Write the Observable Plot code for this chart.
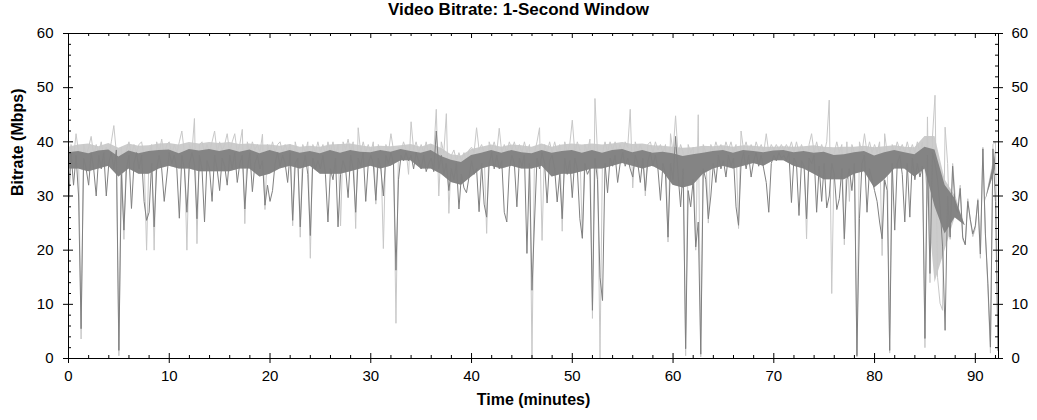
<!DOCTYPE html>
<html><head><meta charset="utf-8">
<script src="https://cdn.jsdelivr.net/npm/d3@7"></script>
<script src="https://cdn.jsdelivr.net/npm/@observablehq/plot@0.6"></script>
<style>
body{margin:0;background:#fff;}
#title{width:1037px;height:22px;line-height:22px;text-align:center;font:bold 17px "Liberation Sans",Arial,sans-serif;color:#000;}
</style></head><body>
<div id="title">Video Bitrate: 1-Second Window</div>
<div id="chart"></div>
<script>
// sampling step of the detailed series (minutes)
const sampleStepMin = 0.25;
// sampling step of the dense-band envelopes (minutes)
const envelopeStepMin = 1;

// darker series (Mbps), one value per 0.25 min
const dark0to30 = [
28,38,32,37.5, 30,5.5,37,35, 32,38,35,30, 37.5,35,38,30, 36,38,35,38.5,
1.5,34,23.7,35, 37.5,27.7,36,38, 35,37.5,29,25.5, 27,36,24.3,35, 37.5,35,29,33.5,
38,36,37.5,35, 25.9,37.5,35,27, 36,38,36,25.8, 37.5,35,25.2,36.5, 35,29,37.5,35,
31,37,35.5,32, 37.5,35,38,32.5, 36,37.5,27.6,35, 38,30.8,36,37.5, 35,36.5,28.3,32,
29,31,36,38, 35.5,37.5,36,32.5, 38,25.5,36,37, 24.3,35,37.5,34, 22.7,37,35,36.5,
35,37.5,34,25.2, 35,33,37,24.3, 34,36.5,35,29.7, 37.5,35,27,37, 35.5,38,29,36
];
const dark30to60 = [
37.5,36,29.2,37, 35,30,37.5,36, 38,36,16.3,33, 37.5,36.5,38,36.5, 37.5,35,38,36.5,
35,37.5,34.5,36, 37,34.5,42,35, 37.5,34,36,31, 35,33,36,27.6, 34,31.5,30.6,33.5,
36.5,34,35,27.1, 36,28.5,26.1,36, 38,35,37.5,35, 36.5,27,25.2,35, 37.5,36,28,37,
35.5,37.5,19.4,36, 12.6,25.2,37,35, 38,36,28.7,36.5, 37.5,35,28.9,34, 25.8,37,34,36.5,
29.7,37,35,25.8, 22.2,36,34,35, 8.9,37,33,15, 10.7,36,30.6,37, 35.5,37.5,32.5,36,
38,35.5,37,35, 33.5,37.5,36,32.5, 37,31,36.5,38, 35.5,37.5,35,29.2, 36,34,22.4,36
];
const dark60to92 = [
33,41,34,28, 35,1.8,31,28, 33,20.6,25.2,0.8, 35,33,25.8,30, 36,32.5,37.5,35,
36.5,33.5,37.5,35.5, 37,28,24.6,36, 38,35,37.5,33.5, 36.5,38,35.5,37.5, 35,32.5,27,36,
37.5,36.5,38,37, 37.5,36.5,38,28.8, 37,36,26.4,36.5, 35.5,25.8,37,36, 37.5,27,35.5,29,
36,27.8,30,36, 34,27.5,29.5,35, 22.1,33,35,31, 36,0.5,25.8,36, 37.5,27,35,33,
31,29,25.2,22.1, 33,31,1.5,36, 23.7,36,37.5,34, 25.2,36,26.1,37, 33,36,33.5,35.5,
3.7,37.5,15.7,38, 36,33,28,20.6, 5.2,30,22.4,35.5, 28,27,31.4,22.4, 21,29,25.7,23,
24.5,29.2,19.3,38.7, 23,13.8,2.1,38.7, 29,1.5
];

// lighter series (Mbps), one value per 0.25 min
const light0to30 = [
30,39.5,37,41.5, 38,3.6,39.5,37.5, 39,41,37.5,39.5, 38,40,37,39, 37.5,40,43,38,
0.5,39,22,38.5, 40,37.5,39.5,38, 39.5,40,37.5,20, 38,39.5,20,40, 38,40.5,37.5,39.5,
40,37.5,39.5,38, 40,42,38,20, 39.5,38,44.3,21.2, 39.5,40,38,39.5, 38,40,42,38,
40,38.5,39.5,41.5, 38,40,41.5,38, 39.5,42.3,24.9,40, 38,40,38.5,39.5, 38,41.4,27.5,39.5,
38,40,38,39.5, 40,38,39.5,38, 39.5,24.5,40,38, 22.4,39.5,38,40, 18.5,39.5,38,40,
38,39.5,37.5,40, 38,40,37.5,39.5, 24.5,40,38.5,40.5, 38,40,24,42.6, 38,40,38,39.5
];
const light30to60 = [
38,40,28.5,39.5, 38,20.3,39.5,38, 41.5,38.5,6.5,39, 38,40,38.5,34, 43.7,38.5,40,38,
39.5,38,40,37.5, 39.5,38,46,30, 40,38,45.2,26.8, 37.5,38.5,36.5,38, 36.5,38,36,38.5,
39,38,42.6,38.5, 39.5,38,23.1,40, 38.5,40,38,42.5, 38,39.5,38,40, 38.5,40,38,39.5,
38,40,38,39.5, 0,38,40,42.6, 21.8,39.5,38,40, 38,40,38,39.5, 23.5,40,38,39.5,
44,38,40,38.5, 22.2,39.5,38,40.5, 7.4,48,38,0, 38,40,38,40, 38.5,40,38,39.5,
38,40,39,46, 31.5,40,38,39.5, 38,30,39.5,40, 38,40,38.5,39.5, 38,39.5,21.5,41.5
];
const light60to92 = [
38,44.8,37.5,39.5, 38,0.5,39.5,38, 39,20,45,0.3, 39.5,38,25,39.5, 38,40,38.5,39.5,
38,40,38.5,40, 38,39.5,24,42, 38.5,40,38,39.5, 38,40,38.5,39.5, 38,41.5,38,39.5,
38.5,39.5,38.5,39.5, 38.5,39.5,38.5,40, 38,40,38,39.5, 38,22.1,39.5,41.5, 38,40,38,39.5,
38,40,47.7,12, 38,40,38,39.5, 21,40,29,39.5, 38,0.3,40,38, 41.5,38,40,38,
39.5,38,40,19, 41.5,38,1,39.5, 38,40,38.5,39.5, 38,40,38,39.5, 38,40,38,40,
2,44.6,14,41, 48.6,15,10.2,8.9, 42.7,36,22,36, 30,28,32,22, 21,29.5,25.5,22.5,
24,29.5,18.5,39, 23,13,1,39.5, 40,1.5
];

// dense band envelopes (Mbps), one value per minute 0..92
const bandLow = [
35,35,34.5,35,35.5,33.5,35,34,34,35,
35.5,35,35,34.5,34.5,34.5,34.5,35,35,33.5,
34,35,35.5,35,35.5,34,34,34,34.5,35,
35.5,35,35.5,36.5,36.5,35,35,34,32.5,32,
33.5,35,35.5,35,35.5,35,35,35.5,33.5,34,
34,34.5,35,35,35.5,36,35.5,35,35.5,34.5,
32,31.5,32,34,35,35.5,35,35.5,36,35.5,
36.5,36.5,35.5,35,34,33,33,33,34,34.5,
31.5,33,35,35,33.5,35,28,23,26,24.5,
23,29,35
];
const lightBandLow = [
35,35,34.5,35,35.5,33.5,35,34,34,35,
35.5,35,35,34.5,34.5,34.5,34.5,35,35,33.5,
34,35,35.5,35,35.5,34,34,34,34.5,35,
35.5,35,35.5,36.5,36.5,35,35,34,32.5,32,
33.5,35,35.5,35,35.5,35,35,35.5,33.5,34,
34,34.5,35,35,35.5,36,35.5,35,35.5,34.5,
32,31.5,32,34,35,35.5,35,35.5,36,35.5,
36.5,36.5,35.5,35,34,33,33,33,34,34.5,
31.5,33,35,35,33.5,35,14,20,26,24.5,
23,29,35
];
const darkBandTop = [
38,38.2,37.8,38.3,38.5,37.2,38.3,37.8,38.2,38.4,
38.5,37.8,38.6,38.3,38.6,38.2,38.6,38.1,38.5,37.8,
38.4,37.9,38.4,37.9,38.2,37.8,38.4,37.9,38.4,38.1,
38,38.4,38.1,38.6,38.2,37.9,38.4,37.3,36.6,36.2,
37.5,37.9,38.4,37.9,38.4,38,37.8,38.4,37.9,38.2,
38.4,37.9,38.4,37.9,38.4,38.6,38,38.4,37.9,38.1,
37.8,37.3,37.6,37.9,38.2,38.4,37.9,38.4,38.2,38,
38.3,38.4,38,38.2,37.9,38.1,37.5,37.6,38,38.2,
37.4,38,38.4,38,37.6,39,38.5,32,29.5,24.5,
23,29,37.5
];
const lightBandTop = [
39,39.4,39.6,39.1,39.7,38.8,39.6,39.2,39.3,39.6,
39.7,39.4,39.9,39.6,39.9,39.7,39.9,39.5,39.6,39.4,
39.4,39.2,39.5,39,39.2,39,39.4,39.5,39.6,39.3,
39,39.2,39.1,39.3,39.5,39,39.6,38.8,37.6,37.4,
38.6,39,39.4,39,39.4,39.3,39,39.6,39,39.4,
39.6,39.4,39.6,39.4,39.6,39.9,39.5,39.6,39.3,39.2,
39,38.8,38.9,39.2,39.1,39.3,39,39.3,39.2,39,
39,39.1,39,39.1,39.3,39,38.9,39,39,39.2,
38.9,39.1,39.3,39,38.9,41,41,33,30,24.5,
23,29,38.5
];

// axis ticks
const xMajorTicks = [0,10,20,30,40,50,60,70,80,90];
const xMinorTicks = [2,4,6,8,12,14,16,18,22,24,26,28,32,34,36,38,42,44,46,48,52,54,56,58,62,64,66,68,72,74,76,78,82,84,86,88,92];
const yMajorTicks = [0,10,20,30,40,50,60];
const yMinorTicks = [2,4,6,8,12,14,16,18,22,24,26,28,32,34,36,38,42,44,46,48,52,54,56,58];
const xMax = 92.3;
const yMax = 60;

const darkMbps = [...dark0to30, ...dark30to60, ...dark60to92];
const lightMbps = [...light0to30, ...light30to60, ...light60to92];
const darkRows = darkMbps.map((v, i) => ({t: i * sampleStepMin, v}));
const lightRows = lightMbps.map((v, i) => ({t: i * sampleStepMin, v}));
const bandRows = bandLow.map((lo, i) => ({t: i * envelopeStepMin, lo, loLight: lightBandLow[i], hi: darkBandTop[i], hiLight: lightBandTop[i]}));

const chart = Plot.plot({
  width: 1037, height: 398,
  marginTop: 11, marginBottom: 62, marginLeft: 68, marginRight: 39,
  style: {fontFamily: '"Liberation Sans", Arial, sans-serif', fontSize: "15px", color: "#000", background: "#fff"},
  x: {domain: [0, xMax]},
  y: {domain: [0, yMax]},
  marks: [
    Plot.areaY(bandRows, {x: "t", y1: "loLight", y2: "hiLight", fill: "#cccccc"}),
    Plot.line(lightRows, {x: "t", y: "v", stroke: "#c8c8c8", strokeWidth: 1}),
    Plot.areaY(bandRows, {x: "t", y1: "lo", y2: "hi", fill: "#848484"}),
    Plot.line(darkRows, {x: "t", y: "v", stroke: "#808080", strokeWidth: 1}),
    Plot.frame({stroke: "#000"}),
    Plot.ruleX(xMajorTicks, {x: d => d, y1: 0, y2: 0, insetTop: 5, insetBottom: 5, stroke: "#000"}),
    Plot.ruleX(xMinorTicks, {x: d => d, y1: 0, y2: 0, insetTop: 0, insetBottom: 3, stroke: "#000"}),
    Plot.ruleX(xMajorTicks, {x: d => d, y1: yMax, y2: yMax, insetTop: 5, insetBottom: 0, stroke: "#000"}),
    Plot.ruleX(xMinorTicks, {x: d => d, y1: yMax, y2: yMax, insetTop: 3, insetBottom: 0, stroke: "#000"}),
    Plot.ruleY(yMajorTicks, {y: d => d, x1: 0, x2: 0, insetLeft: 5, insetRight: 5, stroke: "#000"}),
    Plot.ruleY(yMinorTicks, {y: d => d, x1: 0, x2: 0, insetLeft: 3, insetRight: 0, stroke: "#000"}),
    Plot.ruleY(yMajorTicks, {y: d => d, x1: xMax, x2: xMax, insetLeft: 5, insetRight: 5, stroke: "#000"}),
    Plot.ruleY(yMinorTicks, {y: d => d, x1: xMax, x2: xMax, insetLeft: 0, insetRight: 3, stroke: "#000"}),
    Plot.axisX({ticks: xMajorTicks, tickSize: 0, tickPadding: 12, label: null}),
    Plot.axisY({anchor: "left", ticks: yMajorTicks, tickSize: 0, tickPadding: 15, label: null}),
    Plot.axisY({anchor: "right", ticks: yMajorTicks, tickSize: 0, tickPadding: 13, label: null}),
    Plot.text(["Time (minutes)"], {text: d => d, frameAnchor: "bottom", dy: 46, fontWeight: "bold", fontSize: 16}),
    Plot.text(["Bitrate (Mbps)"], {text: d => d, frameAnchor: "left", dx: -51, rotate: -90, fontWeight: "bold", fontSize: 16})
  ]
});
document.getElementById("chart").appendChild(chart);
</script>
</body></html>
